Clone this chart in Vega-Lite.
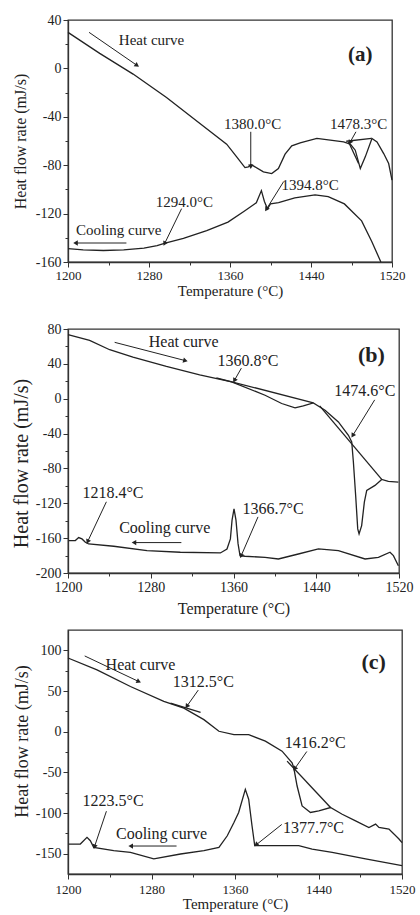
{
  "$schema": "https://vega.github.io/schema/vega-lite/v6.json",
  "padding": {"left": 10, "top": 12, "right": 5, "bottom": 0},
  "bounds": "full",
  "spacing": 12,
  "config": {
    "font": "Liberation Serif",
    "view": {"stroke": "#333", "strokeWidth": 1.3},
    "axis": {"grid": false, "domainColor": "#333", "domainWidth": 1.3, "tickColor": "#333", "labelColor": "#222", "titleColor": "#222", "labelFont": "Liberation Serif", "titleFont": "Liberation Serif", "labelFontSize": 14, "titleFontSize": 15, "titleFontWeight": "normal", "labelPadding": 2, "labelFlush": false, "labelOverlap": false},
    "text": {"font": "Liberation Serif", "fontSize": 15, "color": "#222"},
    "line": {"color": "#222", "strokeWidth": 1.3},
    "rule": {"color": "#222", "strokeWidth": 1},
    "point": {"color": "#222"}
  },
  "datasets": {
    "a_lines": [
      {"s":"heat","x":1200,"y":29.8},{"s":"heat","x":1231.3,"y":12.4},{"s":"heat","x":1264.3,"y":-4.7},{"s":"heat","x":1297.3,"y":-24.0},{"s":"heat","x":1330.3,"y":-45.5},{"s":"heat","x":1356.7,"y":-62.6},{"s":"heat","x":1366.6,"y":-73.1},{"s":"heat","x":1374.8,"y":-82.0},{"s":"heat","x":1378.1,"y":-81.4},{"s":"heat","x":1380.5,"y":-79.5},{"s":"heat","x":1383.1,"y":-80.6},{"s":"heat","x":1393.0,"y":-85.5},{"s":"heat","x":1401.2,"y":-86.9},{"s":"heat","x":1407.8,"y":-82.8},{"s":"heat","x":1414.4,"y":-70.9},{"s":"heat","x":1421.0,"y":-64.0},{"s":"heat","x":1429.3,"y":-61.5},{"s":"heat","x":1445.8,"y":-57.9},{"s":"heat","x":1459.0,"y":-59.3},{"s":"heat","x":1472.2,"y":-60.7},{"s":"heat","x":1478.8,"y":-62.6},{"s":"heat","x":1483.7,"y":-67.6},{"s":"heat","x":1488.7,"y":-82.8},{"s":"heat","x":1493.6,"y":-73.1},{"s":"heat","x":1500.2,"y":-57.9},{"s":"heat","x":1505.2,"y":-60.7},{"s":"heat","x":1511.8,"y":-70.4},{"s":"heat","x":1516.7,"y":-78.6},{"s":"heat","x":1520,"y":-92.4},
      {"s":"cool","x":1200,"y":-149},{"s":"cool","x":1215,"y":-150},{"s":"cool","x":1235,"y":-150.5},{"s":"cool","x":1255,"y":-150},{"s":"cool","x":1275,"y":-148.5},{"s":"cool","x":1288,"y":-146.5},{"s":"cool","x":1296,"y":-144.5},{"s":"cool","x":1314,"y":-140.5},{"s":"cool","x":1337,"y":-134},{"s":"cool","x":1358,"y":-127},{"s":"cool","x":1374,"y":-118},{"s":"cool","x":1386,"y":-111},{"s":"cool","x":1391,"y":-101},{"s":"cool","x":1394,"y":-110},{"s":"cool","x":1397,"y":-116},{"s":"cool","x":1400,"y":-112},{"s":"cool","x":1408,"y":-111},{"s":"cool","x":1424,"y":-107},{"s":"cool","x":1444,"y":-104.5},{"s":"cool","x":1457,"y":-106},{"s":"cool","x":1473,"y":-112},{"s":"cool","x":1490,"y":-126},{"s":"cool","x":1500,"y":-143},{"s":"cool","x":1509,"y":-160},
      {"s":"tan1","x":1474.8,"y":-60.2},{"s":"tan1","x":1499.8,"y":-57.9},
      {"s":"tan2","x":1477,"y":-60.7},{"s":"tan2","x":1487,"y":-78.6}
    ],
    "a_arrows": [
      {"x":1220.8,"y":29.8,"x2":1267.6,"y2":2.8},
      {"x":1380.5,"y":-52.4,"x2":1380.5,"y2":-80.6},
      {"x":1484.4,"y":-52.4,"x2":1478.8,"y2":-60.7},
      {"x":1312.2,"y":-115.9,"x2":1295.7,"y2":-144.3},
      {"x":1412.8,"y":-93.8,"x2":1396.3,"y2":-115.9},
      {"x":1257.7,"y":-144.3,"x2":1208.2,"y2":-144.3}
    ],
    "a_text": [
      {"x":1282.5,"y":23.4,"t":"Heat curve"},
      {"x":1382.4,"y":-46.1,"t":"1380.0°C"},
      {"x":1487,"y":-46.1,"t":"1478.3°C"},
      {"x":1315,"y":-110.4,"t":"1294.0°C"},
      {"x":1439.2,"y":-96.6,"t":"1394.8°C"},
      {"x":1250.1,"y":-133.3,"t":"Cooling curve"}
    ],
    "b_lines": [
      {"s":"heat","x":1200,"y":73.5},{"s":"heat","x":1220.9,"y":67.0},{"s":"heat","x":1240.3,"y":56.2},{"s":"heat","x":1262.8,"y":47.8},{"s":"heat","x":1295.1,"y":37.0},{"s":"heat","x":1327.3,"y":27.4},{"s":"heat","x":1358.2,"y":19.4},{"s":"heat","x":1390.5,"y":4.0},{"s":"heat","x":1406.6,"y":-5.5},{"s":"heat","x":1419.5,"y":-10.5},{"s":"heat","x":1427.5,"y":-8.2},{"s":"heat","x":1437.2,"y":-4.8},{"s":"heat","x":1448.5,"y":-13.2},{"s":"heat","x":1461.4,"y":-26.6},{"s":"heat","x":1471.1,"y":-42.0},{"s":"heat","x":1474.3,"y":-49.7},{"s":"heat","x":1475.9,"y":-72.7},{"s":"heat","x":1478.1,"y":-111.0},{"s":"heat","x":1480.1,"y":-149.4},{"s":"heat","x":1481.4,"y":-155.1},{"s":"heat","x":1483.9,"y":-145.6},{"s":"heat","x":1486.5,"y":-118.7},{"s":"heat","x":1488.8,"y":-105.3},{"s":"heat","x":1496.8,"y":-99.5},{"s":"heat","x":1503.3,"y":-92.6},{"s":"heat","x":1509.7,"y":-94.9},{"s":"heat","x":1519.4,"y":-95.7},
      {"s":"cool","x":1200.6,"y":-162.8},{"s":"cool","x":1207.1,"y":-162.8},{"s":"cool","x":1210.3,"y":-159.4},{"s":"cool","x":1213.5,"y":-160.9},{"s":"cool","x":1216.8,"y":-164.7},{"s":"cool","x":1220.0,"y":-166.7},{"s":"cool","x":1244.2,"y":-169.3},{"s":"cool","x":1276.4,"y":-174.3},{"s":"cool","x":1308.6,"y":-176.2},{"s":"cool","x":1347.3,"y":-177.0},{"s":"cool","x":1353.7,"y":-172.4},{"s":"cool","x":1357.0,"y":-160.9},{"s":"cool","x":1358.6,"y":-139.4},{"s":"cool","x":1360.5,"y":-126.4},{"s":"cool","x":1362.4,"y":-139.4},{"s":"cool","x":1364.4,"y":-166.3},{"s":"cool","x":1366.3,"y":-180.1},{"s":"cool","x":1371.1,"y":-180.8},{"s":"cool","x":1390.5,"y":-182.0},{"s":"cool","x":1403.4,"y":-183.9},{"s":"cool","x":1422.7,"y":-178.2},{"s":"cool","x":1442.1,"y":-172.4},{"s":"cool","x":1461.4,"y":-174.3},{"s":"cool","x":1487.2,"y":-183.9},{"s":"cool","x":1500.1,"y":-182.0},{"s":"cool","x":1511.3,"y":-176.2},{"s":"cool","x":1514.6,"y":-180.1},{"s":"cool","x":1519.4,"y":-191.6},
      {"s":"tan1","x":1343.4,"y":24},{"s":"tan1","x":1437.2,"y":-4.8},
      {"s":"tan2","x":1443.3,"y":-8.2},{"s":"tan2","x":1503.3,"y":-92.6}
    ],
    "b_arrows": [
      {"x":1245.1,"y":64.7,"x2":1312.8,"y2":43.9},
      {"x":1367.6,"y":35.1,"x2":1361.2,"y2":21.7},
      {"x":1496.5,"y":-1.3,"x2":1475.6,"y2":-41.6},
      {"x":1237.1,"y":-118.3,"x2":1219.3,"y2":-163.2},
      {"x":1309.6,"y":-165.1,"x2":1264.5,"y2":-165.1},
      {"x":1383.7,"y":-135.6,"x2":1367.6,"y2":-179.7}
    ],
    "b_text": [
      {"x":1311.8,"y":64.7,"t":"Heat curve"},
      {"x":1374,"y":43.6,"t":"1360.8°C"},
      {"x":1486.9,"y":8.3,"t":"1474.6°C"},
      {"x":1243.5,"y":-108.7,"t":"1218.4°C"},
      {"x":1293.5,"y":-148.2,"t":"Cooling curve"},
      {"x":1398.2,"y":-127.1,"t":"1366.7°C"}
    ],
    "c_lines": [
      {"s":"heat","x":1200,"y":90.6},{"s":"heat","x":1227.8,"y":75.9},{"s":"heat","x":1259.8,"y":55.5},{"s":"heat","x":1291.8,"y":37.2},{"s":"heat","x":1311.0,"y":29.0},{"s":"heat","x":1330.2,"y":14.8},{"s":"heat","x":1344.6,"y":0.5},{"s":"heat","x":1359.0,"y":-3.6},{"s":"heat","x":1373.1,"y":-3.6},{"s":"heat","x":1389.1,"y":-11.7},{"s":"heat","x":1405.1,"y":-24.0},{"s":"heat","x":1414.7,"y":-38.2},{"s":"heat","x":1416.3,"y":-44.4},{"s":"heat","x":1419.5,"y":-66.8},{"s":"heat","x":1424.3,"y":-91.3},{"s":"heat","x":1432.3,"y":-99.4},{"s":"heat","x":1440.3,"y":-97.4},{"s":"heat","x":1451.5,"y":-93.3},{"s":"heat","x":1462.7,"y":-101.5},{"s":"heat","x":1475.5,"y":-109.6},{"s":"heat","x":1488.3,"y":-117.8},{"s":"heat","x":1494.7,"y":-113.7},{"s":"heat","x":1497.9,"y":-117.8},{"s":"heat","x":1507.5,"y":-119.8},{"s":"heat","x":1517.1,"y":-132.0},{"s":"heat","x":1520,"y":-136.5},
      {"s":"cool","x":1200.6,"y":-138.2},{"s":"cool","x":1211.8,"y":-138.2},{"s":"cool","x":1218.2,"y":-130.0},{"s":"cool","x":1221.4,"y":-134.1},{"s":"cool","x":1224.6,"y":-142.2},{"s":"cool","x":1243.8,"y":-146.3},{"s":"cool","x":1259.8,"y":-148.4},{"s":"cool","x":1282.2,"y":-156.5},{"s":"cool","x":1307.8,"y":-150.4},{"s":"cool","x":1330.2,"y":-146.3},{"s":"cool","x":1344.6,"y":-142.2},{"s":"cool","x":1352.6,"y":-128.0},{"s":"cool","x":1359.0,"y":-111.7},{"s":"cool","x":1363.5,"y":-99.4},{"s":"cool","x":1369.9,"y":-70.9},{"s":"cool","x":1373.1,"y":-83.1},{"s":"cool","x":1376.3,"y":-115.7},{"s":"cool","x":1378.9,"y":-140.2},{"s":"cool","x":1389.1,"y":-140.2},{"s":"cool","x":1421.1,"y":-140.2},{"s":"cool","x":1433.9,"y":-144.3},{"s":"cool","x":1453.1,"y":-148.4},{"s":"cool","x":1485.1,"y":-156.5},{"s":"cool","x":1520,"y":-164.7},
      {"s":"tan1","x":1298.2,"y":35.2},{"s":"tan1","x":1327,"y":23.7},
      {"s":"tan2","x":1409.9,"y":-36.2},{"s":"tan2","x":1451.5,"y":-93.3}
    ],
    "c_arrows": [
      {"x":1216,"y":93.1,"x2":1267.2,"y2":62},
      {"x":1324.8,"y":51.1,"x2":1314.2,"y2":31.9},
      {"x":1428.8,"y":-24.4,"x2":1417.6,"y2":-44.8},
      {"x":1236.8,"y":-97.8,"x2":1225.6,"y2":-140.6},
      {"x":1304,"y":-140.6,"x2":1260.8,"y2":-140.6},
      {"x":1404.8,"y":-114.1,"x2":1380.8,"y2":-138.6}
    ],
    "c_text": [
      {"x":1269.4,"y":81.6,"t":"Heat curve"},
      {"x":1329.6,"y":61.3,"t":"1312.5°C"},
      {"x":1436.8,"y":-14.2,"t":"1416.2°C"},
      {"x":1243.2,"y":-85.6,"t":"1223.5°C"},
      {"x":1289.6,"y":-125.5,"t":"Cooling curve"},
      {"x":1435.2,"y":-118.2,"t":"1377.7°C"}
    ]
  },
  "vconcat": [
    {
      "bounds": "flush",
      "spacing": 67,
      "vconcat": [
        {
          "width": 324, "height": 242,
          "encoding": {
            "x": {"field": "x", "type": "quantitative", "title": "Temperature (°C)", "scale": {"domain": [1200, 1520], "nice": false, "zero": false},
              "axis": {"values": [1200,1240,1280,1320,1360,1400,1440,1480,1520], "labelExpr": "datum.value % 80 === 0 ? '' + datum.value : ''", "tickSize": {"condition": {"test": "datum.value % 80 === 0", "value": 5}, "value": 3}, "labelFontSize": 13, "titlePadding": 1}},
            "y": {"field": "y", "type": "quantitative", "title": "Heat flow rate (mJ/s)", "scale": {"domain": [-160, 40], "nice": false, "zero": false},
              "axis": {"values": [-160,-140,-120,-100,-80,-60,-40,-20,0,20,40], "labelExpr": "datum.value % 40 === 0 ? '' + datum.value : ''", "tickSize": {"condition": {"test": "datum.value % 40 === 0", "value": 5}, "value": 3}, "titleFontSize": 16, "titlePadding": 7}}
          },
          "layer": [
            {"data": {"name": "a_lines"}, "mark": {"type": "line"}, "encoding": {"detail": {"field": "s"}}},
            {"data": {"name": "a_arrows"}, "mark": {"type": "rule"}, "encoding": {"x2": {"field": "x2"}, "y2": {"field": "y2"}}},
            {"data": {"name": "a_arrows"}, "transform": [{"calculate": "atan2((datum.x2-datum.x)*1.0125, (datum.y2-datum.y)*1.21)*180/PI", "as": "ang"}],
              "mark": {"type": "point", "shape": "triangle", "filled": true, "size": 28, "opacity": 1},
              "encoding": {"x": {"field": "x2", "type": "quantitative", "title": "Temperature (°C)"}, "y": {"field": "y2", "type": "quantitative", "title": "Heat flow rate (mJ/s)"}, "angle": {"field": "ang", "type": "quantitative", "scale": null}}},
            {"data": {"name": "a_text"}, "mark": {"type": "text"}, "encoding": {"text": {"field": "t"}}},
            {"data": {"values": [{"x": 1488.7, "y": 11, "t": "(a)"}]}, "mark": {"type": "text", "fontWeight": "bold", "fontSize": 21}, "encoding": {"text": {"field": "t"}}}
          ]
        },
        {
          "width": 331, "height": 244,
          "encoding": {
            "x": {"field": "x", "type": "quantitative", "title": "Temperature (°C)", "scale": {"domain": [1200, 1520], "nice": false, "zero": false},
              "axis": {"values": [1200,1240,1280,1320,1360,1400,1440,1480,1520], "labelExpr": "datum.value % 80 === 0 ? '' + datum.value : ''", "tickSize": {"condition": {"test": "datum.value % 80 === 0", "value": 5}, "value": 3}, "titlePadding": 6, "titleFontSize": 16}},
            "y": {"field": "y", "type": "quantitative", "title": "Heat flow rate (mJ/s)", "scale": {"domain": [-200, 80], "nice": false, "zero": false},
              "axis": {"values": [-200,-180,-160,-140,-120,-100,-80,-60,-40,-20,0,20,40,60,80], "labelExpr": "datum.value % 40 === 0 ? '' + datum.value : ''", "tickSize": {"condition": {"test": "datum.value % 40 === 0", "value": 5}, "value": 3}, "titleFontSize": 20, "titlePadding": 4, "titleY": 134}}
          },
          "layer": [
            {"data": {"name": "b_lines"}, "mark": {"type": "line"}, "encoding": {"detail": {"field": "s"}}},
            {"data": {"name": "b_arrows"}, "mark": {"type": "rule"}, "encoding": {"x2": {"field": "x2"}, "y2": {"field": "y2"}}},
            {"data": {"name": "b_arrows"}, "transform": [{"calculate": "atan2((datum.x2-datum.x)*1.0344, (datum.y2-datum.y)*0.8714)*180/PI", "as": "ang"}],
              "mark": {"type": "point", "shape": "triangle", "filled": true, "size": 28, "opacity": 1},
              "encoding": {"x": {"field": "x2", "type": "quantitative", "title": "Temperature (°C)"}, "y": {"field": "y2", "type": "quantitative", "title": "Heat flow rate (mJ/s)"}, "angle": {"field": "ang", "type": "quantitative", "scale": null}}},
            {"data": {"name": "b_text"}, "mark": {"type": "text", "fontSize": 16}, "encoding": {"text": {"field": "t"}}},
            {"data": {"values": [{"x": 1493.3, "y": 50.5, "t": "(b)"}]}, "mark": {"type": "text", "fontWeight": "bold", "fontSize": 22}, "encoding": {"text": {"field": "t"}}}
          ]
        }
      ]
    },
    {
      "width": 334, "height": 244,
      "encoding": {
        "x": {"field": "x", "type": "quantitative", "title": "Temperature (°C)", "scale": {"domain": [1200, 1520], "nice": false, "zero": false},
          "axis": {"values": [1200,1240,1280,1320,1360,1400,1440,1480,1520], "labelExpr": "datum.value % 80 === 0 ? '' + datum.value : ''", "tickSize": {"condition": {"test": "datum.value % 80 === 0", "value": 5}, "value": 3}, "labelFontSize": 13, "labelPadding": 4, "titlePadding": 0, "titleFontSize": 15}},
        "y": {"field": "y", "type": "quantitative", "title": "Heat flow rate (mJ/s)", "scale": {"domain": [-175, 125], "nice": false, "zero": false},
          "axis": {"values": [-150,-125,-100,-75,-50,-25,0,25,50,75,100], "labelExpr": "datum.value % 50 === 0 ? '' + datum.value : ''", "tickSize": {"condition": {"test": "datum.value % 50 === 0", "value": 5}, "value": 3}, "titleFontSize": 18, "titlePadding": 4, "titleY": 111}}
      },
      "layer": [
        {"data": {"name": "c_lines"}, "mark": {"type": "line"}, "encoding": {"detail": {"field": "s"}}},
        {"data": {"name": "c_arrows"}, "mark": {"type": "rule"}, "encoding": {"x2": {"field": "x2"}, "y2": {"field": "y2"}}},
        {"data": {"name": "c_arrows"}, "transform": [{"calculate": "atan2((datum.x2-datum.x)*1.04375, (datum.y2-datum.y)*0.8133)*180/PI", "as": "ang"}],
          "mark": {"type": "point", "shape": "triangle", "filled": true, "size": 28, "opacity": 1},
          "encoding": {"x": {"field": "x2", "type": "quantitative", "title": "Temperature (°C)"}, "y": {"field": "y2", "type": "quantitative", "title": "Heat flow rate (mJ/s)"}, "angle": {"field": "ang", "type": "quantitative", "scale": null}}},
        {"data": {"name": "c_text"}, "mark": {"type": "text", "fontSize": 16}, "encoding": {"text": {"field": "t"}}},
        {"data": {"values": [{"x": 1492.8, "y": 85.7, "t": "(c)"}]}, "mark": {"type": "text", "fontWeight": "bold", "fontSize": 22}, "encoding": {"text": {"field": "t"}}}
      ]
    }
  ]
}
